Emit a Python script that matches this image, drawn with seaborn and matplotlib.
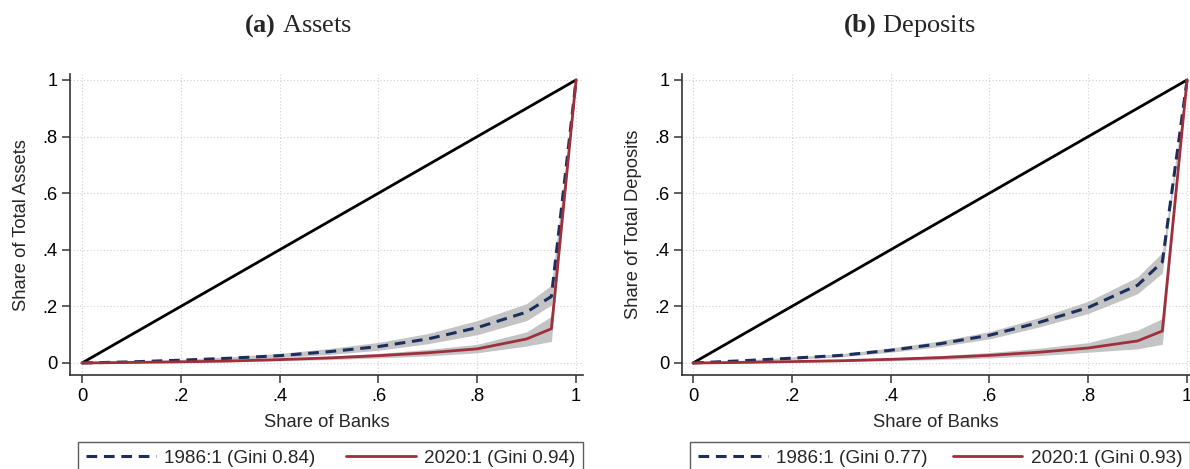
import numpy as np
import pandas as pd
import matplotlib
matplotlib.use("Agg")
import matplotlib.pyplot as plt
import seaborn as sns

# ---- data ----
share_banks = [0, .1, .2, .3, .4, .5, .6, .7, .8, .9, .95, 1]

assets_1986 = [0, .004, .010, .017, .026, .040, .058, .085, .125, .180, .235, 1]
assets_1986_lo = [0, .003, .007, .012, .019, .030, .045, .068, .100, .150, .205, 1]
assets_1986_hi = [0, .005, .013, .022, .034, .051, .073, .104, .150, .210, .275, 1]
assets_2020 = [0, .002, .004, .007, .012, .018, .026, .036, .050, .085, .121, 1]
assets_2020_lo = [0, .001, .003, .005, .008, .012, .018, .025, .036, .060, .076, 1]
assets_2020_hi = [0, .003, .006, .010, .016, .024, .034, .048, .066, .110, .165, 1]

deposits_1986 = [0, .008, .017, .027, .045, .068, .098, .143, .196, .275, .357, 1]
deposits_1986_lo = [0, .006, .013, .022, .038, .058, .085, .127, .175, .245, .318, 1]
deposits_1986_hi = [0, .010, .021, .033, .053, .078, .111, .160, .218, .304, .390, 1]
deposits_2020 = [0, .002, .005, .008, .013, .019, .027, .038, .053, .078, .113, 1]
deposits_2020_lo = [0, .001, .003, .005, .008, .012, .018, .026, .038, .050, .066, 1]
deposits_2020_hi = [0, .003, .007, .011, .018, .026, .037, .052, .072, .116, .157, 1]

ticks = [0, .2, .4, .6, .8, 1]
tick_labels = ["0", ".2", ".4", ".6", ".8", "1"]

panels = [
    ("(a)", "Assets", "Share of Total Assets", assets_1986, assets_1986_lo, assets_1986_hi,
     assets_2020, assets_2020_lo, assets_2020_hi, "1986:1 (Gini 0.84)", "2020:1 (Gini 0.94)"),
    ("(b)", "Deposits", "Share of Total Deposits", deposits_1986, deposits_1986_lo, deposits_1986_hi,
     deposits_2020, deposits_2020_lo, deposits_2020_hi, "1986:1 (Gini 0.77)", "2020:1 (Gini 0.93)"),
]

sns.set_theme(style="white")
plt.rcParams['font.family'] = ['Liberation Sans', 'DejaVu Sans']
plt.rcParams['mathtext.fontset'] = 'custom'
plt.rcParams['mathtext.rm'] = 'Liberation Serif'
plt.rcParams['mathtext.bf'] = 'Liberation Serif:bold'

NAVY = "#1c2f5c"
RED = "#9e2f3b"
BAND = "#c4c4c4"
FS = 13.2

fig = plt.figure(figsize=(11.9, 4.69), dpi=100)
axes_rects = [
    [70 / 1190, 94 / 469, 513 / 1190, 300.7 / 469],
    [682 / 1190, 94 / 469, 508 / 1190, 300.7 / 469],
]
xlims = [(-0.0243, 1.014), (-0.0223, 1.006)]
title_x = [298 / 1190, 909 / 1190]

for i, (tag, name, ylab, m1, l1, h1, m2, l2, h2, lab1, lab2) in enumerate(panels):
    ax = fig.add_axes(axes_rects[i])
    df = pd.DataFrame({"x": share_banks, "y1": m1, "y2": m2})
    ax.fill_between(share_banks, l1, h1, color=BAND, lw=0, zorder=1)
    ax.fill_between(share_banks, l2, h2, color=BAND, lw=0, zorder=1)
    sns.lineplot(data=df, x="x", y="x", ax=ax, color="black", lw=2, zorder=3)
    sns.lineplot(data=df, x="x", y="y1", ax=ax, color=NAVY, lw=2.2, zorder=4,
                 label=lab1, dashes=False)
    ax.lines[-1].set_linestyle((0, (3.5, 2.2)))
    sns.lineplot(data=df, x="x", y="y2", ax=ax, color=RED, lw=2, zorder=5, label=lab2)

    ax.set_xlim(*xlims[i])
    ax.set_ylim(-0.0424, 1.02)
    ax.set_xticks(ticks)
    ax.set_xticklabels(tick_labels)
    ax.set_yticks(ticks)
    ax.set_yticklabels(tick_labels)
    ax.grid(True, color="#d0d0d0", linestyle=(0, (1, 2)), lw=0.8)
    for s in ["top", "right"]:
        ax.spines[s].set_visible(False)
    for s in ["left", "bottom"]:
        ax.spines[s].set_color("#333333")
        ax.spines[s].set_linewidth(1.2)
    ax.tick_params(axis="both", which="major", direction="out", length=6, width=1.1,
                   color="#333333", labelsize=FS, labelcolor="black",
                   left=True, bottom=True, pad=3)
    ax.set_xlabel("Share of Banks", fontsize=FS, labelpad=7)
    ax.set_ylabel(ylab, fontsize=FS, labelpad=9)

    leg = ax.legend(loc="upper left", bbox_to_anchor=(0.016, -0.223 - 0.2, 0.984, 0.2),
                    mode="expand", ncol=2, frameon=True, fancybox=False,
                    edgecolor="#333333", fontsize=13.6, handlelength=3.7,
                    borderpad=0.4, borderaxespad=0, handletextpad=0.45,
                    columnspacing=2.0)
    leg.get_frame().set_linewidth(1.0)

    fig.text(title_x[i], 0.945, r"$\mathbf{" + tag + r"}$ " + r"$\mathrm{" + name + r"}$",
             ha="center", va="center", fontsize=19)

fig.savefig("out.png", dpi=100)
